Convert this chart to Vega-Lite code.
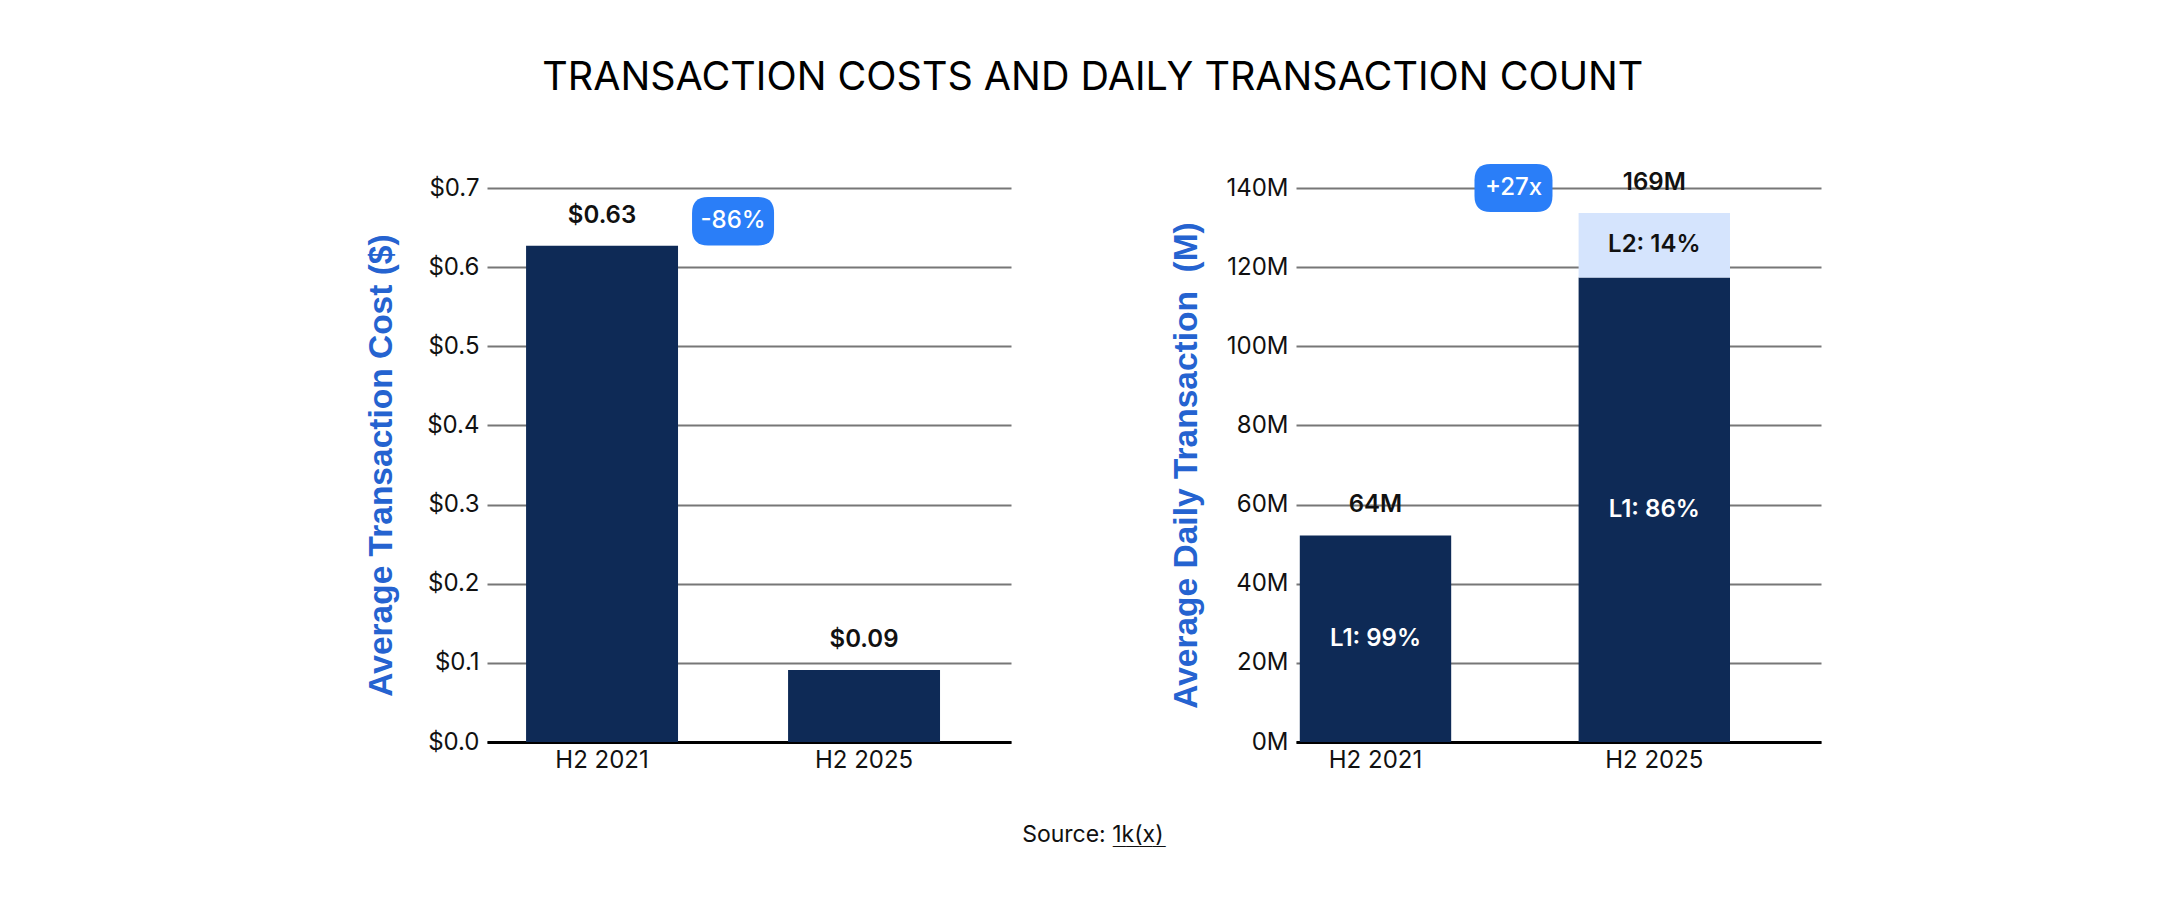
{
  "$schema": "https://vega.github.io/schema/vega-lite/v6.json",
  "background": "white",
  "padding": {"left": 364, "top": 57, "right": 10, "bottom": 10},
  "title": {
    "text": "Source: 1k(x)",
    "subtitle": "\u200b\u00a0\u00a0\u00a0\u00a0\u00a0\u00a0\u00a0____",
    "orient": "bottom",
    "anchor": "middle",
    "font": "Inter",
    "fontSize": 23,
    "fontWeight": 400,
    "color": "#111111",
    "subtitleFont": "DejaVu Sans Mono",
    "subtitleFontSize": 22,
    "subtitleColor": "#111111",
    "subtitlePadding": -22,
    "offset": 52
  },
  "vconcat": [
    {
      "title": {
        "text": "TRANSACTION COSTS AND DAILY TRANSACTION COUNT",
        "anchor": "middle",
        "font": "Inter",
        "fontSize": 39.5,
        "fontWeight": 400,
        "color": "#000000",
        "offset": 66
      },
      "spacing": 158,
      "hconcat": [
        {
          "width": 524,
          "height": 554,
          "encoding": {
            "x": {
              "field": "period",
              "type": "nominal",
              "title": null,
              "scale": {"paddingInner": 0.42, "paddingOuter": 0.21, "align": 0.355},
              "axis": {"labelAngle": 0, "ticks": false, "domainColor": "#000000", "domainWidth": 3, "labelPadding": 6}
            }
          },
          "layer": [
            {
              "data": {"values": [
                {"period": "H2 2021", "cost": 0.627},
                {"period": "H2 2025", "cost": 0.091}
              ]},
              "mark": {"type": "bar", "color": "#0e2a56"},
              "encoding": {
                "y": {
                  "field": "cost",
                  "type": "quantitative",
                  "title": "Average Transaction Cost ($)",
                  "scale": {"domain": [0, 0.7]},
                  "axis": {"format": "$.1f", "tickCount": 7, "titlePadding": 28}
                }
              }
            },
            {
              "data": {"values": [
                {"period": "H2 2021", "cost": 0.627},
                {"period": "H2 2025", "cost": 0.091}
              ]},
              "mark": {"type": "text", "dy": -30, "font": "Inter", "fontSize": 24, "fontWeight": 600, "color": "#111111"},
              "encoding": {
                "y": {"field": "cost", "type": "quantitative"},
                "text": {"field": "cost", "type": "quantitative", "format": "$.2f"}
              }
            },
            {
              "data": {"values": [
                {"period": "H2 2021", "cost": 0.658, "badge": "-86%"}
              ]},
              "mark": {
                "type": "point",
                "filled": true,
                "opacity": 1,
                "color": "#2a7ef8",
                "size": 6724,
                "xOffset": 131,
                "shape": "M-0.61,-0.59 L0.61,-0.59 Q1,-0.59 1,-0.2 L1,0.2 Q1,0.59 0.61,0.59 L-0.61,0.59 Q-1,0.59 -1,0.2 L-1,-0.2 Q-1,-0.59 -0.61,-0.59 Z"
              },
              "encoding": {
                "y": {"field": "cost", "type": "quantitative"}
              }
            },
            {
              "data": {"values": [
                {"period": "H2 2021", "cost": 0.658, "badge": "-86%"}
              ]},
              "mark": {"type": "text", "xOffset": 131, "font": "Inter", "fontSize": 24, "fontWeight": 500, "color": "white", "baseline": "middle"},
              "encoding": {
                "y": {"field": "cost", "type": "quantitative"},
                "text": {"field": "badge"}
              }
            }
          ]
        },
        {
          "width": 525,
          "height": 554,
          "encoding": {
            "x": {
              "field": "period",
              "type": "nominal",
              "title": null,
              "scale": {"paddingInner": 0.457, "paddingOuter": 0.17, "align": 0.04},
              "axis": {"labelAngle": 0, "ticks": false, "domainColor": "#000000", "domainWidth": 3, "labelPadding": 6}
            }
          },
          "layer": [
            {
              "data": {"values": [
                {"period": "H2 2021", "layer": "L1", "txns": 52.2, "share": "L1: 99%"},
                {"period": "H2 2025", "layer": "L1", "txns": 117.4, "share": "L1: 86%"},
                {"period": "H2 2025", "layer": "L2", "txns": 16.3, "share": "L2: 14%"}
              ]},
              "mark": {"type": "bar"},
              "encoding": {
                "y": {
                  "field": "txns",
                  "type": "quantitative",
                  "title": "Average Daily Transaction \u00a0(M)",
                  "scale": {"domain": [0, 140]},
                  "axis": {"labelExpr": "datum.value + 'M'", "tickCount": 7, "titlePadding": 22}
                },
                "color": {
                  "field": "layer",
                  "type": "nominal",
                  "scale": {"domain": ["L1", "L2"], "range": ["#0e2a56", "#d5e4fd"]},
                  "legend": null
                },
                "order": {"field": "layer"}
              }
            },
            {
              "data": {"values": [
                {"period": "H2 2021", "layer": "L1", "txns": 52.2, "share": "L1: 99%"},
                {"period": "H2 2025", "layer": "L1", "txns": 117.4, "share": "L1: 86%"},
                {"period": "H2 2025", "layer": "L2", "txns": 16.3, "share": "L2: 14%"}
              ]},
              "transform": [
                {"stack": "txns", "groupby": ["period"], "sort": [{"field": "layer"}], "as": ["lo", "hi"]},
                {"calculate": "(datum.lo + datum.hi) / 2", "as": "mid"}
              ],
              "mark": {"type": "text", "font": "Inter", "fontSize": 24, "fontWeight": 600, "baseline": "middle"},
              "encoding": {
                "y": {"field": "mid", "type": "quantitative"},
                "text": {"field": "share"},
                "color": {
                  "field": "layer",
                  "type": "nominal",
                  "scale": {"domain": ["L1", "L2"], "range": ["#ffffff", "#111111"]},
                  "legend": null
                }
              }
            },
            {
              "data": {"values": [
                {"period": "H2 2021", "top": 52.2, "total": "64M"},
                {"period": "H2 2025", "top": 133.7, "total": "169M"}
              ]},
              "mark": {"type": "text", "dy": -30, "font": "Inter", "fontSize": 24, "fontWeight": 600, "color": "#111111"},
              "encoding": {
                "y": {"field": "top", "type": "quantitative"},
                "text": {"field": "total"}
              }
            },
            {
              "data": {"values": [
                {"period": "H2 2021", "top": 140, "badge": "+27x"}
              ]},
              "mark": {
                "type": "point",
                "filled": true,
                "opacity": 1,
                "color": "#2a7ef8",
                "size": 6084,
                "xOffset": 138,
                "shape": "M-0.59,-0.615 L0.59,-0.615 Q1,-0.615 1,-0.2 L1,0.2 Q1,0.615 0.59,0.615 L-0.59,0.615 Q-1,0.615 -1,0.2 L-1,-0.2 Q-1,-0.615 -0.59,-0.615 Z"
              },
              "encoding": {
                "y": {"field": "top", "type": "quantitative"}
              }
            },
            {
              "data": {"values": [
                {"period": "H2 2021", "top": 140, "badge": "+27x"}
              ]},
              "mark": {"type": "text", "xOffset": 138, "font": "Inter", "fontSize": 24, "fontWeight": 500, "color": "white", "baseline": "middle"},
              "encoding": {
                "y": {"field": "top", "type": "quantitative"},
                "text": {"field": "badge"}
              }
            }
          ],
          "resolve": {"scale": {"color": "independent"}}
        }
      ]
    }
  ],
  "config": {
    "view": {"stroke": null},
    "axis": {
      "labelFont": "Inter",
      "labelFontSize": 24,
      "labelColor": "#111111",
      "titleFont": "Liberation Sans",
      "titleFontSize": 33.5,
      "titleFontWeight": "bold",
      "titleColor": "#2563d0",
      "gridColor": "#777777",
      "gridWidth": 1.8
    },
    "axisY": {"domain": false, "ticks": false, "labelPadding": 8, "grid": true},
    "axisX": {"grid": false}
  }
}
